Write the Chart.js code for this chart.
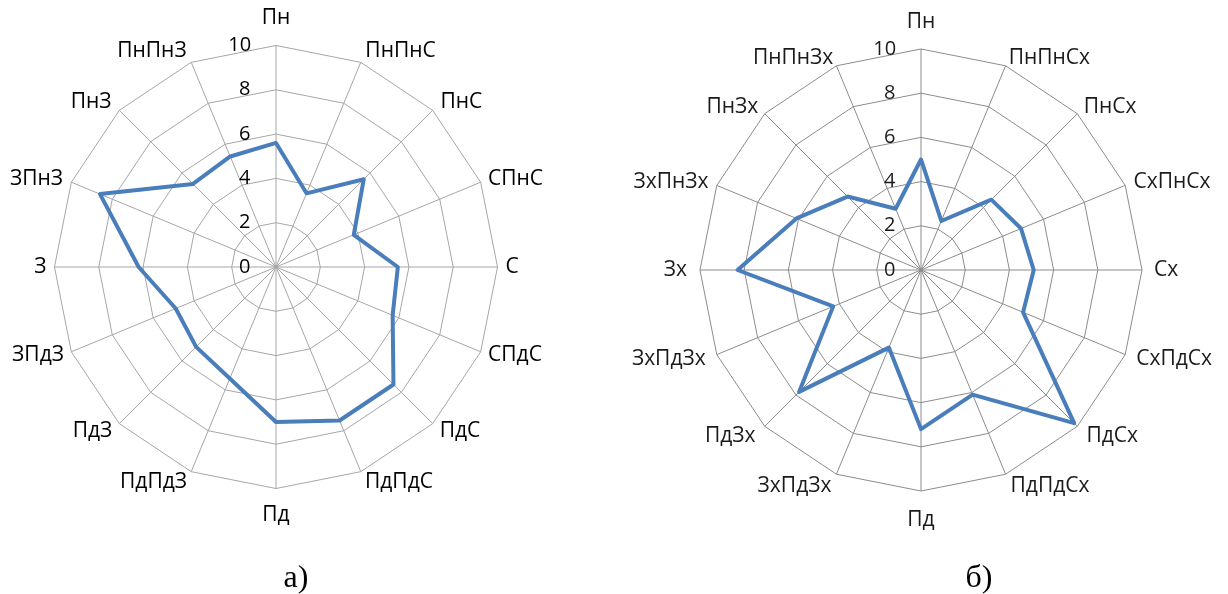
<!DOCTYPE html>
<html><head><meta charset="utf-8">
<script src="https://cdn.jsdelivr.net/npm/chart.js@4.4.1/dist/chart.umd.min.js"></script>
<style>
html,body{margin:0;padding:0;background:#fff;width:1228px;height:594px;overflow:hidden;position:relative}
canvas{position:absolute}
.cap{position:absolute;font-family:"Liberation Serif","Times New Roman",serif;font-size:32px;line-height:1;color:#000;transform:translateX(-50%);white-space:nowrap}
</style></head><body>
<canvas id="c1"></canvas><canvas id="c2"></canvas>
<div class="cap" style="left:296px;top:560px">а)</div>
<div class="cap" style="left:979px;top:560px">б)</div>
<script>
const labelsA = ['Пн','ПнПнС','ПнС','СПнС','С','СПдС','ПдС','ПдПдС','Пд','ПдПдЗ','ПдЗ','ЗПдЗ','З','ЗПнЗ','ПнЗ','ПнПнЗ'];
const valuesA = [5.6, 3.6, 5.6, 3.8, 5.5, 5.7, 7.5, 7.5, 7.0, 5.45, 5.1, 4.9, 6.2, 8.6, 5.3, 5.4];

const labelsB = ['Пн','ПнПнСх','ПнСх','СхПнСх','Сх','СхПдСх','ПдСх','ПдПдСх','Пд','ЗхПдЗх','ПдЗх','ЗхПдЗх','Зх','ЗхПнЗх','ПнЗх','ПнПнЗх'];
const valuesB = [5.0, 2.4, 4.5, 4.9, 5.1, 5.0, 9.8, 6.1, 7.2, 3.8, 7.8, 4.3, 8.3, 6.1, 4.7, 3.0];

const tickLabels = ['0','2','4','6','8','10'];
const scaleMax = 10;
const scaleStep = 2;

const measureCtx = document.createElement('canvas').getContext('2d');
function padTick(text, font, gap) {
  measureCtx.font = font;
  const w = measureCtx.measureText(text).width;
  const sp = measureCtx.measureText(' ').width;
  const n = Math.max(0, Math.round((w + 2 * gap) / sp));
  return text + ' '.repeat(n);
}

function makeChart(id, labels, values, cfg) {
  const canvas = document.getElementById(id);
  let size = 2 * cfg.r + 180;
  let chart = null;
  const tickFontStr = cfg.tickSize + "px 'Open Sans'";
  const build = () => new Chart(canvas, {
    type: 'radar',
    data: {
      labels: labels,
      datasets: [{
        data: values,
        borderColor: '#4A7EBB',
        borderWidth: cfg.lineW,
        borderJoinStyle: 'round',
        pointRadius: 0,
        pointHoverRadius: 0,
        fill: false,
        tension: 0
      }]
    },
    options: {
      responsive: false,
      maintainAspectRatio: false,
      animation: false,
      events: [],
      layout: { padding: 40 },
      plugins: { legend: { display: false }, tooltip: { enabled: false } },
      scales: {
        r: {
          min: -0.000001,
          max: scaleMax,
          angleLines: { display: true, color: cfg.gridColor, lineWidth: 1 },
          grid: { color: cfg.gridColor, lineWidth: 1, circular: false },
          pointLabels: {
            display: true,
            padding: (ctx) => cfg.pads[ctx.index],
            color: cfg.labelColor,
            font: { family: 'Open Sans', size: cfg.labelSize, lineHeight: 0.01 }
          },
          ticks: {
            stepSize: scaleStep,
            showLabelBackdrop: false,
            backdropPadding: 2,
            color: cfg.labelColor,
            font: { family: 'Open Sans', size: cfg.tickSize },
            callback: (v) => {
              const idx = Math.round(Math.max(0, v) / scaleStep);
              return padTick(tickLabels[idx], tickFontStr, cfg.tickGap);
            }
          }
        }
      }
    }
  });
  for (let k = 0; k < 8; k++) {
    if (chart) chart.destroy();
    canvas.width = size; canvas.height = size;
    canvas.style.width = size + 'px'; canvas.style.height = size + 'px';
    chart = build();
    const s = chart.scales.r;
    const diff = cfg.r - s.drawingArea;
    if (Math.abs(diff) < 0.5) break;
    size = Math.round(size + 2 * diff);
  }
  const s = chart.scales.r;
  canvas.style.left = (cfg.x - s.xCenter) + 'px';
  canvas.style.top = (cfg.y - s.yCenter) + 'px';
  return chart;
}

makeChart('c1', labelsA, valuesA, {
  x: 276, y: 267, r: 222, labelSize: 21, tickSize: 20, tickGap: 26,
  pads: [15, 0, -1, -4, -4, -4, -2, -1, 14, -1, -2, -4, -4, -3, -1, 0],
  gridColor: '#a6a6a6', labelColor: '#000', lineW: 4
});
makeChart('c2', labelsB, valuesB, {
  x: 921, y: 270, r: 221, labelSize: 21, tickSize: 20, tickGap: 26,
  pads: [15, -4, -3, -3, 0, 0, 1, 1, 17, 1, 1, 0, 1, -3, -3, -4],
  gridColor: '#8c8c8c', labelColor: '#1a1a1a', lineW: 4
});
</script>
</body></html>
